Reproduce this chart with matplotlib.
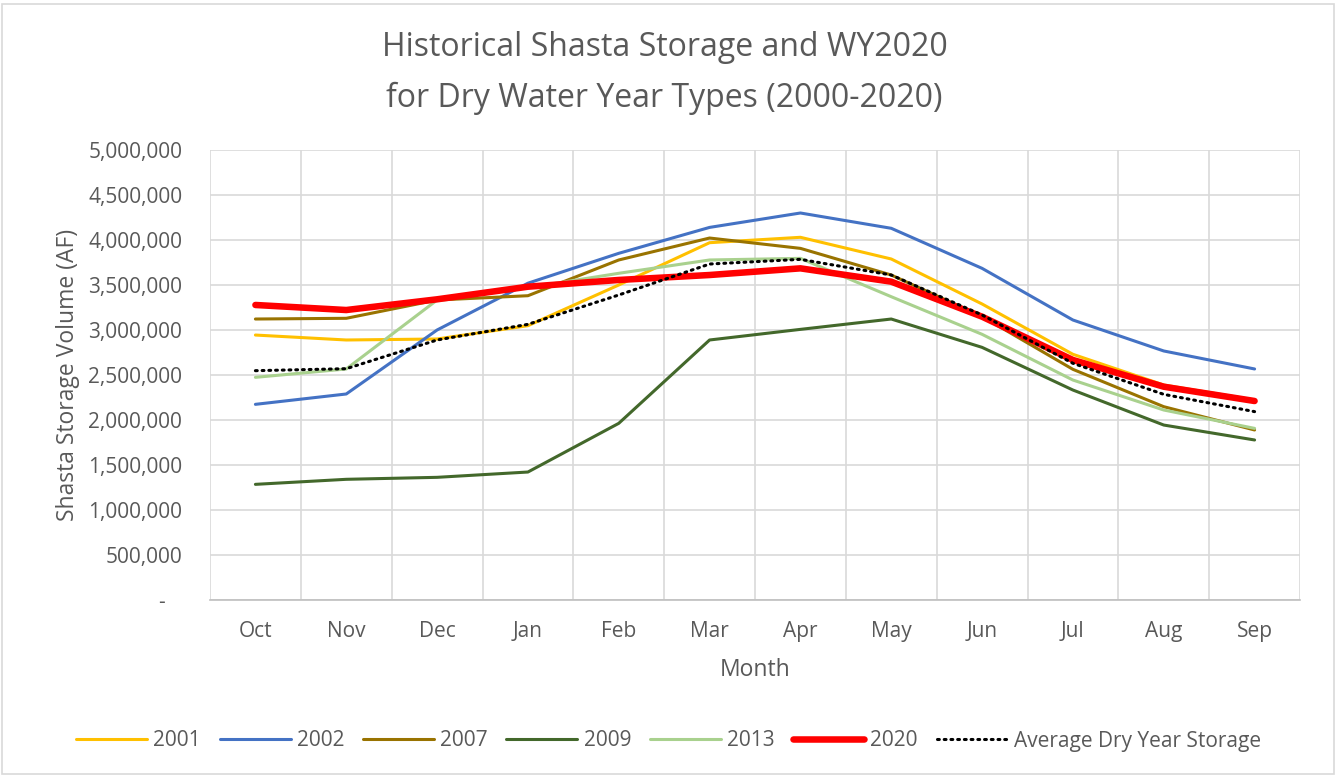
import numpy as np
import matplotlib.pyplot as plt
from matplotlib.patches import Rectangle
from matplotlib.ticker import FuncFormatter, MultipleLocator, FixedLocator

plt.rcParams['font.family'] = ['Open Sans', 'DejaVu Sans']

months = ['Oct', 'Nov', 'Dec', 'Jan', 'Feb', 'Mar', 'Apr', 'May', 'Jun', 'Jul', 'Aug', 'Sep']

wy2001 = [2944000, 2889000, 2900000, 3048000, 3500000, 3970000, 4030000, 3789000, 3289000, 2730000, 2389000, 2222000]
wy2002 = [2174000, 2289000, 3000000, 3520000, 3852000, 4140000, 4300000, 4130000, 3685000, 3111000, 2767000, 2567000]
wy2007 = [3122000, 3130000, 3333000, 3381000, 3778000, 4022000, 3907000, 3611000, 3150000, 2563000, 2148000, 1889000]
wy2009 = [1285000, 1341000, 1363000, 1422000, 1963000, 2889000, 3007000, 3122000, 2807000, 2333000, 1944000, 1778000]
wy2013 = [2474000, 2567000, 3333000, 3470000, 3630000, 3778000, 3796000, 3370000, 2952000, 2444000, 2111000, 1907000]
wy2020 = [3278000, 3222000, 3341000, 3481000, 3556000, 3611000, 3685000, 3537000, 3148000, 2667000, 2370000, 2211000]
avg_dry = [2548000, 2570000, 2889000, 3063000, 3389000, 3733000, 3785000, 3611000, 3167000, 2630000, 2285000, 2093000]

series = [
    ('2001', wy2001, '#FFC000', 2.2),
    ('2002', wy2002, '#4472C4', 2.2),
    ('2007', wy2007, '#997300', 2.2),
    ('2009', wy2009, '#43682B', 2.2),
    ('2013', wy2013, '#A9D18E', 2.2),
    ('2020', wy2020, '#FF0000', 4.7),
]

TXT = '#595959'
GRID = '#D9D9D9'

fig = plt.figure(figsize=(13.37, 7.76), dpi=100)
ax = fig.add_axes([210/1337, 1-600/776, 1090/1337, 450/776])

x = np.arange(len(months))
for name, vals, col, lw in series:
    ax.plot(x, vals, color=col, lw=lw, label=name, solid_capstyle='round')
ax.plot(x, avg_dry, color='black', lw=2.2, ls=(0, (0.6, 1.6)), dash_capstyle='round',
        label='Average Dry Year Storage')

ax.set_xlim(-0.5, len(months) - 0.5)
ax.set_ylim(0, 5000000)
ax.set_xticks(x)
ax.set_xticklabels(months)
ax.xaxis.set_minor_locator(FixedLocator(np.arange(-0.5, len(months), 1.0)))
ax.yaxis.set_major_locator(MultipleLocator(500000))
ax.yaxis.set_major_formatter(FuncFormatter(lambda v, p: '-   ' if v == 0 else f'{int(v):,}'))

ax.grid(which='minor', axis='x', color=GRID, lw=1.2)
ax.grid(which='major', axis='y', color=GRID, lw=1.2)
ax.set_axisbelow(True)
for s in ['top', 'right', 'left']:
    ax.spines[s].set_visible(False)
ax.spines['bottom'].set_color('#BFBFBF')
ax.spines['bottom'].set_linewidth(1.2)
ax.tick_params(which='both', length=0, colors=TXT, labelsize=15)
ax.tick_params(axis='x', pad=15)
ax.tick_params(axis='y', pad=20)

ax.set_xlabel('Month', color=TXT, fontsize=16.5, labelpad=12)
ax.set_ylabel('Shasta Storage Volume (AF)', color=TXT, fontsize=16.5, labelpad=6)

fig.text(0.497, 1-48/776, 'Historical Shasta Storage and WY2020', ha='center', va='center',
         fontsize=23, color=TXT)
fig.text(0.497, 1-98/776, 'for Dry Water Year Types (2000-2020)', ha='center', va='center',
         fontsize=23, color=TXT)

fig.legend(loc='center', bbox_to_anchor=(0.5, 1-741/776), ncol=7, frameon=False,
           fontsize=15, handlelength=3.4, columnspacing=0.9, handletextpad=0.3,
           labelcolor=TXT)

fig.patches.append(Rectangle((2/1337, 2/776), 1332/1337, 770/776, transform=fig.transFigure,
                             fill=False, edgecolor='#D9D9D9', lw=1.2))

fig.savefig('out.png', dpi=100)
